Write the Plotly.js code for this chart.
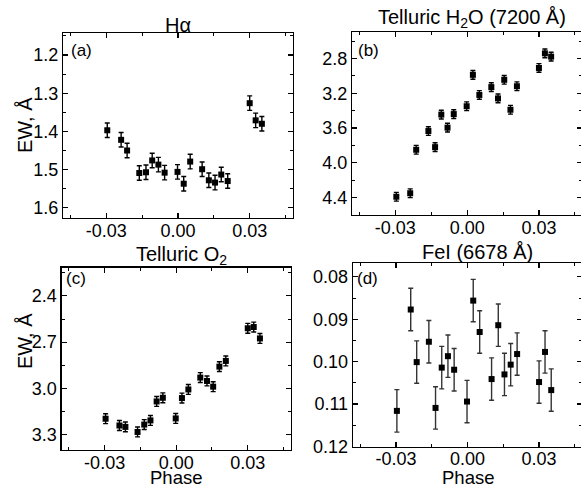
<!DOCTYPE html>
<html>
<head>
<meta charset="utf-8">
<script src="https://cdn.plot.ly/plotly-3.0.1.min.js"></script>
<style>
html,body{margin:0;padding:0;overflow:hidden;background:#fff;}
#chart{width:583px;height:489px;}
</style>
</head>
<body>
<div id="chart"></div>
<script>
// Shared orbital phase of the observations
const phase = [-0.0296, -0.0238, -0.0213, -0.0162, -0.0134, -0.0108, -0.0082, -0.0056, -0.0002,
               0.0024, 0.0051, 0.0101, 0.0129, 0.0155, 0.0181, 0.0208, 0.0300, 0.0325, 0.0351];

// (a) H-alpha equivalent width
const ewHalpha = [1.397, 1.422, 1.450, 1.509, 1.507, 1.476, 1.487, 1.508, 1.506, 1.537,
                  1.479, 1.499, 1.528, 1.534, 1.513, 1.530, 1.326, 1.371, 1.380];
const errHalpha = 0.019;

// (b) Telluric H2O (7200 A)
const ewH2O = [4.39, 4.35, 3.85, 3.635, 3.82, 3.446, 3.596, 3.44, 3.35, 2.989,
               3.22, 3.13, 3.26, 3.046, 3.39, 3.12, 2.91, 2.742, 2.78];
const errH2O = 0.05;

// (c) Telluric O2
const ewO2 = [3.197, 3.241, 3.25, 3.283, 3.235, 3.208, 3.085, 3.061, 3.195, 3.063,
              3.007, 2.93, 2.952, 2.989, 2.859, 2.822, 2.61, 2.602, 2.676];
const errO2 = 0.032;

// (d) FeI (6678 A)
const ewFeI = [0.1116, 0.0877, 0.1001, 0.0953, 0.1109, 0.1014, 0.0987, 0.1019, 0.1094, 0.0856,
               0.0930, 0.1041, 0.0914, 0.1030, 0.1007, 0.0982, 0.1048, 0.0977, 0.1067];
const errFeI = 0.005;

// Tick labels
const xTickVals = [-0.03, 0, 0.03];
const xTickText = ['-0.03', '0.00', '0.03'];

const FONT = '"Liberation Sans", Arial, sans-serif';

function trace(y, err, xa, ya, errColor) {
  return {
    x: phase, y: y, xaxis: xa, yaxis: ya,
    type: 'scatter', mode: 'markers',
    marker: {symbol: 'square', size: 6, color: '#000'},
    error_y: {type: 'constant', value: err, visible: true,
              color: errColor, thickness: 1.4, width: 2.5},
    showlegend: false, hoverinfo: 'skip', cliponaxis: false
  };
}

function xAxis(domain, anchor) {
  return {
    domain: domain, anchor: anchor, range: [-0.048, 0.048],
    tickmode: 'array', tickvals: xTickVals, ticktext: xTickText,
    ticks: 'inside', ticklen: 5, tickwidth: 1.2, tickcolor: '#000',
    ticklabelstandoff: -4,
    minor: {tickmode: 'linear', tick0: 0, dtick: 0.015, ticks: 'inside', ticklen: 3, tickwidth: 1, tickcolor: '#000'},
    showline: true, linecolor: '#000', linewidth: 1.3, mirror: 'allticks',
    showgrid: false, zeroline: false,
    tickfont: {family: FONT, size: 18, color: '#000'}
  };
}

function yAxis(domain, anchor, range, tick0, dtick, mdtick, fmt) {
  return {
    domain: domain, anchor: anchor, range: range,
    tickmode: 'linear', tick0: tick0, dtick: dtick, tickformat: fmt,
    ticks: 'inside', ticklen: 5, tickwidth: 1.2, tickcolor: '#000',
    minor: {tickmode: 'linear', tick0: tick0, dtick: mdtick, ticks: 'inside', ticklen: 3, tickwidth: 1, tickcolor: '#000'},
    showline: true, linecolor: '#000', linewidth: 1.3, mirror: 'allticks',
    showgrid: false, zeroline: false,
    tickfont: {family: FONT, size: 18, color: '#000'}
  };
}

const W = 583, H = 489;
const px = v => v / W;
const py = v => 1 - v / H;

const data = [
  trace(ewHalpha, errHalpha, 'x', 'y', '#000'),
  trace(ewH2O, errH2O, 'x2', 'y2', '#000'),
  trace(ewO2, errO2, 'x3', 'y3', '#000'),
  trace(ewFeI, errFeI, 'x4', 'y4', '#333')
];

function ann(text, x, y, size, opts) {
  return Object.assign({
    text: text, xref: 'paper', yref: 'paper', x: x, y: y,
    xanchor: 'center', yanchor: 'middle', showarrow: false,
    font: {family: FONT, size: size, color: '#000'}
  }, opts || {});
}

const layout = {
  width: W, height: H,
  margin: {l: 0, r: 0, t: 0, b: 0},
  paper_bgcolor: '#fff', plot_bgcolor: '#fff',
  xaxis: xAxis([px(63.3), px(292.7)], 'y'),
  yaxis: yAxis([py(217.7), py(33.3)], 'x', [1.626, 1.143], 1.2, 0.1, 0.05, '.1f'),
  xaxis2: xAxis([px(352.3), px(582)], 'y2'),
  yaxis2: yAxis([py(215), py(32.3)], 'x2', [4.6, 2.5], 2.8, 0.4, 0.2, '.1f'),
  xaxis3: xAxis([px(61.7), px(290.7)], 'y3'),
  yaxis3: yAxis([py(450), py(267.7)], 'x3', [3.4, 2.217], 2.4, 0.3, 0.15, '.1f'),
  xaxis4: xAxis([px(353), px(582)], 'y4'),
  yaxis4: yAxis([py(446.5), py(263.3)], 'x4', [0.12, 0.0768], 0.08, 0.01, 0.005, '.2f'),
  annotations: [
    ann('H\u03b1', px(178), py(25), 20),
    ann('Telluric H<sub>2</sub>O (7200 \u00c5)', px(471.5), py(19), 20),
    ann('Telluric O<sub>2</sub>', px(181), py(255), 20),
    ann('FeI (6678 \u00c5)', px(477), py(252), 20),
    ann('(a)', px(69), py(50), 17, {xanchor: 'left'}),
    ann('(b)', px(356), py(50), 17, {xanchor: 'left'}),
    ann('(c)', px(64), py(278), 17, {xanchor: 'left'}),
    ann('(d)', px(355), py(278), 17, {xanchor: 'left'}),
    ann('EW, \u00c5', px(25), py(125), 20, {textangle: -90}),
    ann('EW, \u00c5', px(25), py(341), 20, {textangle: -90}),
    ann('Phase', px(176), 0, 18.5, {yanchor: 'bottom', borderpad: 0}),
    ann('Phase', px(467.5), 0, 18.5, {yanchor: 'bottom', borderpad: 0})
  ]
};

Plotly.newPlot('chart', data, layout, {staticPlot: true, displayModeBar: false});
</script>
</body>
</html>
